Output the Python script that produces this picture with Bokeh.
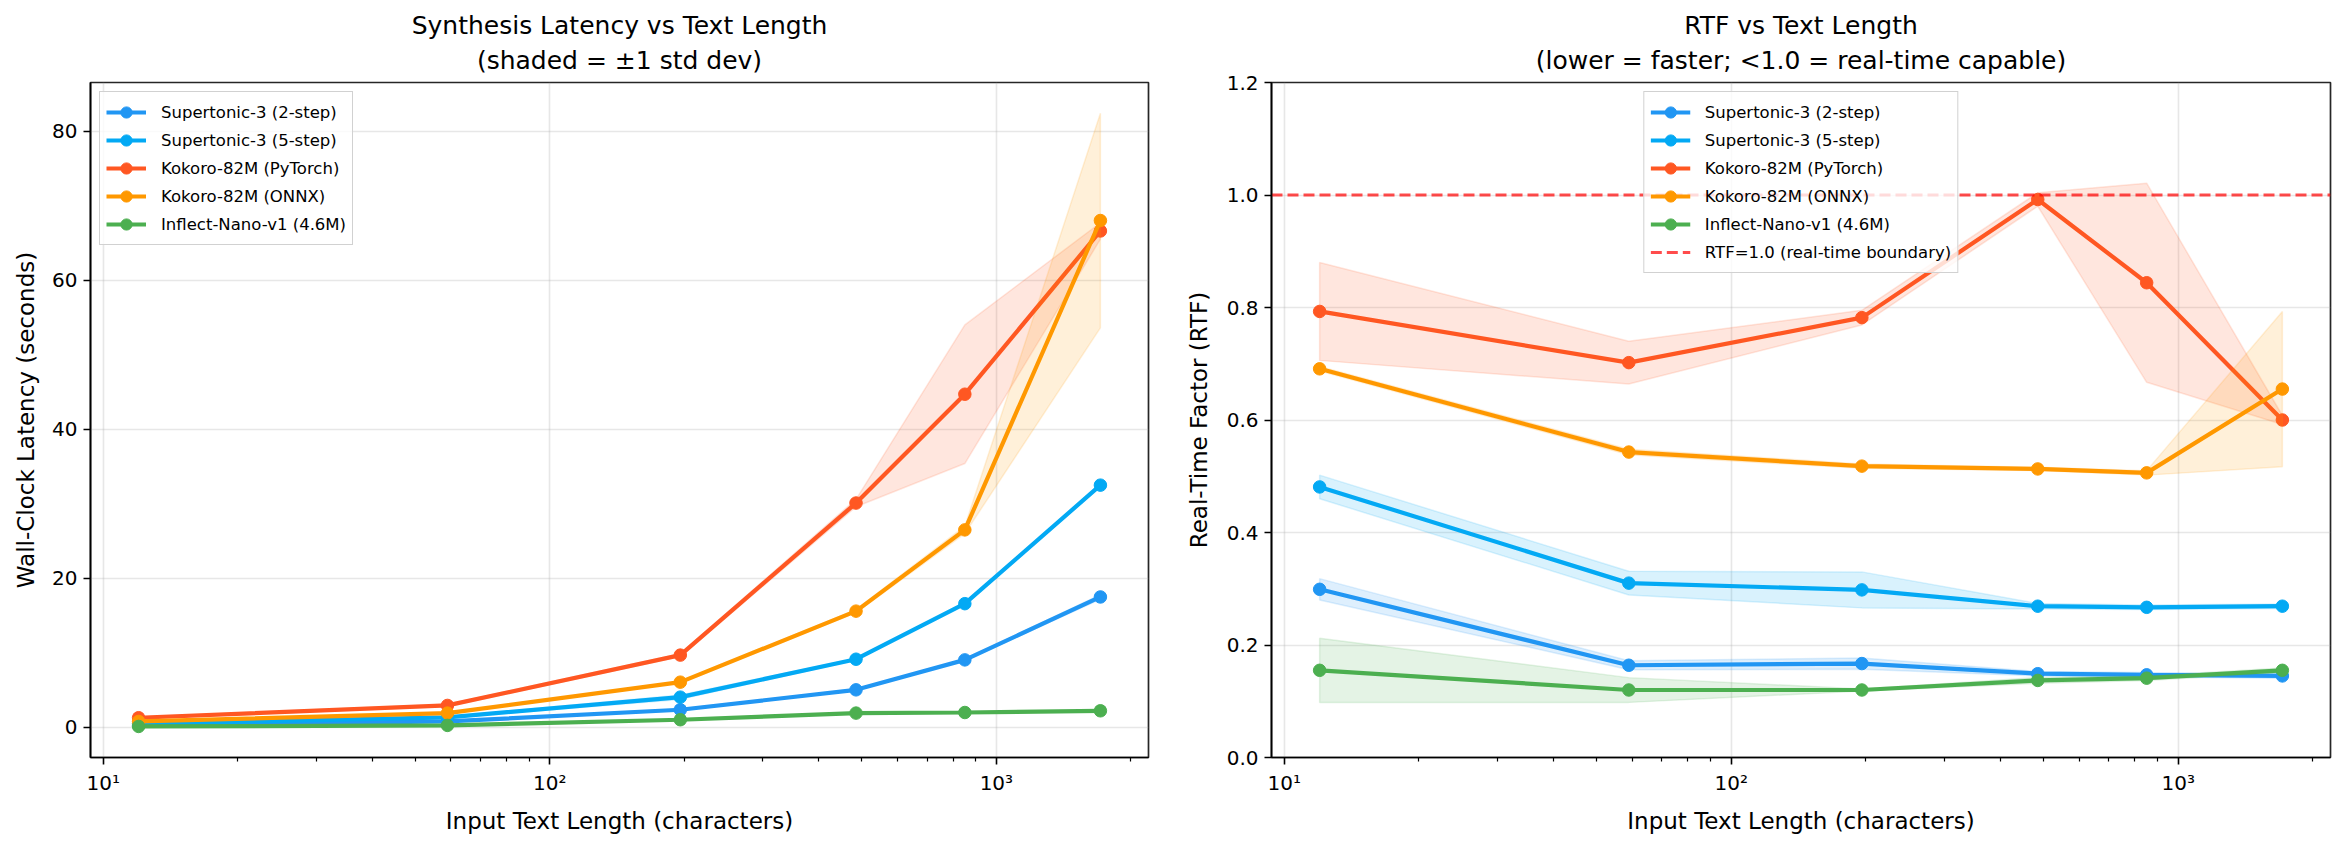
import numpy as np
from bokeh.plotting import figure
from bokeh.models import FixedTicker, Range1d, Title, NumeralTickFormatter
from bokeh.layouts import row
from bokeh.embed import file_html
from bokeh.resources import INLINE

# ---------------- data ----------------
text_len = [12, 59, 196, 485, 850, 1710]

series_names = ["Supertonic-3 (2-step)", "Supertonic-3 (5-step)", "Kokoro-82M (PyTorch)",
                "Kokoro-82M (ONNX)", "Inflect-Nano-v1 (4.6M)"]
series_colors = ["#2196F3", "#03A9F4", "#FF5722", "#FF9800", "#4CAF50"]

# latency (seconds)
sup2_lat = [0.28, 0.80, 2.37, 5.04, 9.06, 17.5]
sup2_lat_std = [0.02, 0.04, 0.10, 0.10, 0.10, 0.30]
sup5_lat = [0.50, 1.34, 4.06, 9.15, 16.6, 32.5]
sup5_lat_std = [0.03, 0.10, 0.30, 0.10, 0.10, 0.20]
kpt_lat = [1.30, 2.95, 9.70, 30.1, 44.7, 66.6]
kpt_lat_std = [0.10, 0.15, 0.20, 0.50, 9.30, 1.10]
konnx_lat = [0.80, 1.92, 6.07, 15.6, 26.5, 68.0]
konnx_lat_std = [0.01, 0.02, 0.05, 0.20, 0.50, 14.4]
nano_lat = [0.13, 0.27, 1.03, 1.92, 2.00, 2.23]
nano_lat_std = [0.05, 0.03, 0.02, 0.05, 0.05, 0.05]

# real-time factor
sup2_rtf = [0.299, 0.164, 0.167, 0.149, 0.147, 0.145]
sup2_rtf_std = [0.019, 0.008, 0.010, 0.004, 0.004, 0.004]
sup5_rtf = [0.481, 0.310, 0.298, 0.269, 0.267, 0.269]
sup5_rtf_std = [0.021, 0.021, 0.032, 0.005, 0.004, 0.004]
kpt_rtf = [0.793, 0.702, 0.782, 0.992, 0.844, 0.600]
kpt_rtf_std = [0.087, 0.038, 0.013, 0.012, 0.177, 0.008]
konnx_rtf = [0.691, 0.543, 0.518, 0.513, 0.506, 0.655]
konnx_rtf_std = [0.004, 0.005, 0.004, 0.003, 0.004, 0.138]
nano_rtf = [0.155, 0.120, 0.120, 0.137, 0.141, 0.155]
nano_rtf_std = [0.057, 0.022, 0.002, 0.005, 0.004, 0.004]

rtf_boundary = 1.0
rtf_ticks = [0.0, 0.2, 0.4, 0.6, 0.8, 1.0, 1.2]
lat_ticks = [0, 20, 40, 60, 80]
x_major = [10, 100, 1000]
x_minor = [m * d for d in (1, 10, 100, 1000) for m in range(2, 10)]

lat_means = [sup2_lat, sup5_lat, kpt_lat, konnx_lat, nano_lat]
lat_stds = [sup2_lat_std, sup5_lat_std, kpt_lat_std, konnx_lat_std, nano_lat_std]
rtf_means = [sup2_rtf, sup5_rtf, kpt_rtf, konnx_rtf, nano_rtf]
rtf_stds = [sup2_rtf_std, sup5_rtf_std, kpt_rtf_std, konnx_rtf_std, nano_rtf_std]

FONT = "DejaVu Sans"

lx = np.log10(text_len)
span = lx.max() - lx.min()
xlo = 10 ** (lx.min() - 0.05 * span)
xhi = 10 ** (lx.max() + 0.05 * span)


def make_fig(width, left, right, title1, title2, ylabel, yrange, yticks, ylabels=None,
             ylabel_standoff=10):
    p = figure(width=width, height=846, x_axis_type="log", output_backend="svg",
               toolbar_location=None, x_range=Range1d(xlo, xhi), y_range=yrange,
               min_border_left=left, min_border_right=right, min_border_top=82,
               min_border_bottom=89, background_fill_color="white",
               border_fill_color="white")
    p.add_layout(Title(text=title2, align="center", vertical_align="top", text_font=FONT,
                       text_font_size="25px", text_font_style="normal", text_color="black",
                       standoff=12), "above")
    p.add_layout(Title(text=title1, align="center", text_font=FONT, text_font_size="25px",
                       text_font_style="normal", text_color="black", standoff=0), "above")
    p.outline_line_color = "black"
    p.outline_line_width = 1.7
    p.outline_line_alpha = 0.85
    p.xaxis.ticker = FixedTicker(ticks=x_major, minor_ticks=x_minor)
    p.xaxis.major_label_overrides = {10: "10\u00b9", 100: "10\u00b2", 1000: "10\u00b3"}
    p.yaxis.ticker = FixedTicker(ticks=yticks)
    if ylabels is not None:
        p.yaxis.formatter = NumeralTickFormatter(format=ylabels)
    p.xaxis.axis_label = "Input Text Length (characters)"
    p.yaxis.axis_label = ylabel
    for ax in (p.xaxis, p.yaxis):
        ax.axis_label_text_font = FONT
        ax.axis_label_text_font_size = "23px"
        ax.axis_label_text_font_style = "normal"
        ax.axis_label_text_color = "black"
        ax.major_label_text_font = FONT
        ax.major_label_text_font_size = "20px"
        ax.major_label_text_color = "black"
        ax.axis_line_color = "black"
        ax.axis_line_width = 1.7
        ax.major_tick_line_color = "black"
        ax.major_tick_line_width = 1.6
        ax.major_tick_out = 7
        ax.major_tick_in = 0
        ax.minor_tick_line_color = "black"
        ax.minor_tick_line_width = 1.2
        ax.minor_tick_out = 4
        ax.minor_tick_in = 0
    p.yaxis.minor_tick_line_color = None
    p.xaxis.major_label_standoff = 6
    p.yaxis.major_label_standoff = 6
    p.xaxis.axis_label_standoff = 10
    p.yaxis.axis_label_standoff = ylabel_standoff
    for g in (p.xgrid, p.ygrid):
        g.grid_line_color = "#b0b0b0"
        g.grid_line_alpha = 0.3
        g.grid_line_width = 1.6
    return p


def draw_series(p, means, stds):
    x = np.array(text_len, dtype=float)
    for name, color, m, s in zip(series_names, series_colors, means, stds):
        m = np.array(m)
        s = np.array(s)
        lo = m - s
        hi = m + s
        px = list(x) + list(x[::-1])
        py = list(hi) + list(lo[::-1])
        p.patch(px, py, fill_color=color, fill_alpha=0.15, line_color=color,
                line_alpha=0.15, line_width=1.5)
        p.line(x, m, line_color=color, line_width=4.2, legend_label=name)
        p.scatter(x, m, size=12.5, fill_color=color, line_color=color, legend_label=name)


def style_legend(p, loc):
    lg = p.legend[0]
    lg.location = loc
    lg.margin = 9
    lg.label_text_font = FONT
    lg.label_text_font_size = "16.5px"
    lg.label_text_color = "black"
    lg.label_height = 28
    lg.glyph_height = 28
    lg.glyph_width = 40
    lg.spacing = 0
    lg.padding = 6
    lg.label_standoff = 15
    lg.border_line_color = "#cccccc"
    lg.border_line_width = 1.6
    lg.border_line_alpha = 0.9
    lg.background_fill_alpha = 0.8


# ---------- left: latency ----------
all_lo = min(min(np.array(m) - np.array(s)) for m, s in zip(lat_means, lat_stds))
all_hi = max(max(np.array(m) + np.array(s)) for m, s in zip(lat_means, lat_stds))
yspan = all_hi - all_lo
p1 = make_fig(1172, 90, 24, "Synthesis Latency vs Text Length", "(shaded = \u00b11 std dev)",
              "Wall-Clock Latency (seconds)",
              Range1d(all_lo - 0.05 * yspan, all_hi + 0.05 * yspan), lat_ticks)
draw_series(p1, lat_means, lat_stds)
style_legend(p1, "top_left")

# ---------- right: RTF ----------
p2 = make_fig(1173, 99, 15, "RTF vs Text Length",
              "(lower = faster; <1.0 = real-time capable)",
              "Real-Time Factor (RTF)", Range1d(rtf_ticks[0], rtf_ticks[-1]), rtf_ticks, "0.0",
              ylabel_standoff=12)
draw_series(p2, rtf_means, rtf_stds)
p2.line([xlo, xhi], [rtf_boundary, rtf_boundary], line_color="red", line_alpha=0.7,
        line_width=3.1, line_dash="11 5", legend_label="RTF=1.0 (real-time boundary)")
style_legend(p2, "top_center")

layout = row(p1, p2)
open("out.html", "w").write(file_html(layout, INLINE))
